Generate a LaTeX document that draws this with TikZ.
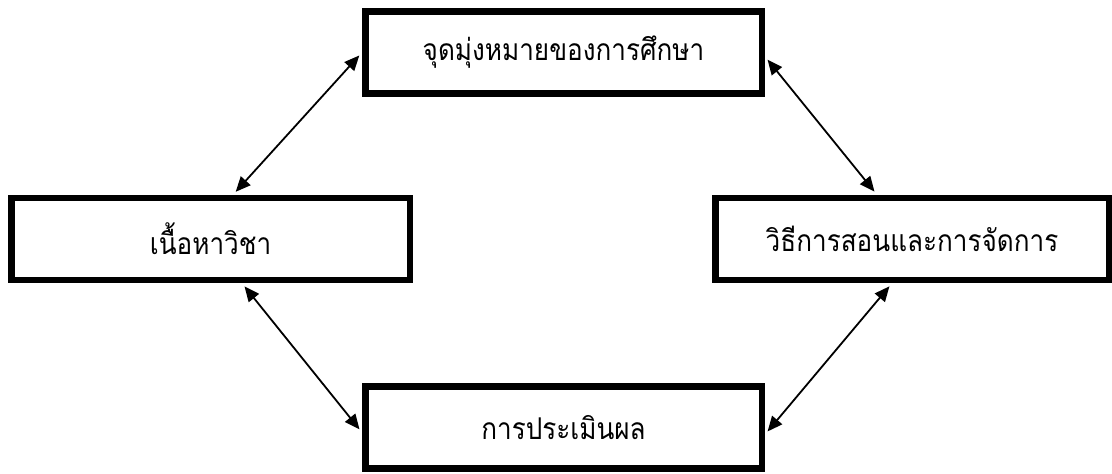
\documentclass[tikz,border=0pt]{standalone}
\usepackage{fontspec}
\newfontfamily\thaifont[Script=Thai,FakeStretch=0.87]{Loma}
\usetikzlibrary{arrows.meta}

\tikzset{
	box/.style={draw, line width=3.25pt, minimum height=41pt, inner sep=0pt, font=\thaifont\fontsize{15pt}{17pt}\selectfont},
	link/.style={{Triangle[length=7.5pt,width=6.5pt]}-{Triangle[length=7.5pt,width=6.5pt]}, line width=0.9pt, shorten <=2pt, shorten >=2pt}
}

\begin{document}
\begin{tikzpicture}[x=0.5pt,y=-0.5pt]
\useasboundingbox (0,0) rectangle (1112,473);

\node [box, minimum width=198.25pt] (ziel) at (563.5,52.5) {จุดมุ่งหมายของการศึกษา};
\node [box, minimum width=199.25pt] (inhalt) at (210.5,239) {เนื้อหาวิชา};
\node [box, minimum width=196.75pt] (methode) at (912,239) {วิธีการสอนและการจัดการ};
\node [box, minimum width=198.25pt] (bewertung) at (563.5,427.5) {การประเมินผล};

\draw [link] ([xshift=11.25pt]inhalt.north) -- ([yshift=0pt]ziel.west);
\draw [link] ([yshift=-2pt]ziel.east) -- ([xshift=-17.5pt]methode.north);
\draw [link] ([xshift=15.75pt]inhalt.south) -- ([yshift=-2.5pt]bewertung.west);
\draw [link] ([xshift=-10pt]methode.south) -- ([yshift=-3.5pt]bewertung.east);

\end{tikzpicture}
\end{document}
